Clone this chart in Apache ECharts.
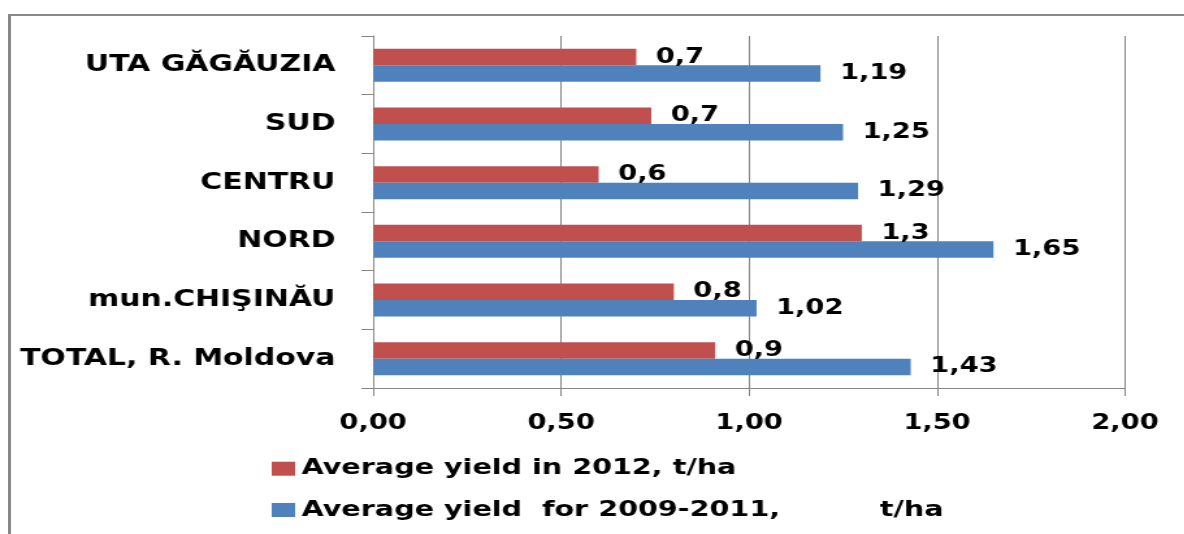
<!DOCTYPE html>
<html>
<head>
<meta charset="utf-8">
<script src="https://cdn.jsdelivr.net/npm/echarts@6/dist/echarts.min.js"></script>
<style>
  html, body { margin: 0; padding: 0; background: #fff; overflow: hidden; }
  #wrap { position: relative; width: 1184px; height: 534px; overflow: hidden; }
  #c { position: absolute; left: 0; top: 0; width: 911px; height: 534px; transform: scaleX(1.3); transform-origin: 0 0; }
  #bl { position: absolute; left: 8px; top: 14px; width: 3px; height: 520px; background: #888; }
  #bt { position: absolute; left: 8px; top: 14px; width: 1176px; height: 2px; background: #8a8a8a; }
</style>
</head>
<body>
<div id="wrap">
  <div id="c"></div>
  <div id="bl"></div>
  <div id="bt"></div>
</div>
<script>
// Categories listed bottom to top
const categories = ['TOTAL, R. Moldova', 'mun.CHIŞINĂU', 'NORD', 'CENTRU', 'SUD', 'UTA GĂGĂUZIA'];
const yield2012 = [0.91, 0.80, 1.30, 0.60, 0.74, 0.70];
const yield2009_2011 = [1.43, 1.02, 1.65, 1.29, 1.25, 1.19];
const seriesNames = ['Average yield in 2012, t/ha', 'Average yield  for 2009-2011,          t/ha'];
const xTicks = { min: 0, max: 2, interval: 0.5 };

const FONT = 'DejaVu Sans';
const fmt = (d) => (v) => Number(v).toFixed(d).replace('.', ',');

const chart = echarts.init(document.getElementById('c'), null, { renderer: 'canvas' });
chart.setOption({
  animation: false,
  textStyle: { fontFamily: FONT, fontWeight: 'bold', color: '#000' },
  grid: { left: 287, right: 45.6, top: 36, bottom: 146, containLabel: false },
  legend: {
    orient: 'vertical',
    left: 209,
    top: 457.7,
    padding: 0,
    itemWidth: 18,
    itemHeight: 14,
    itemGap: 19.3,
    icon: 'rect',
    data: [seriesNames[0], seriesNames[1]],
    textStyle: { fontFamily: FONT, fontWeight: 'bold', fontSize: 22, color: '#000', lineHeight: 22 }
  },
  xAxis: {
    type: 'value',
    min: xTicks.min, max: xTicks.max, interval: xTicks.interval,
    axisLine: { show: true, lineStyle: { color: '#868686', width: 1 } },
    axisTick: { show: true, length: 8, lineStyle: { color: '#868686' } },
    splitLine: { show: true, lineStyle: { color: '#868686', width: 1 } },
    axisLabel: { formatter: fmt(2), fontFamily: FONT, fontWeight: 'bold', fontSize: 21, color: '#000', margin: 25 }
  },
  yAxis: {
    type: 'category',
    data: categories,
    axisLine: { show: true, lineStyle: { color: '#868686', width: 1 } },
    axisTick: { show: true, length: 9, lineStyle: { color: '#868686' } },
    axisLabel: { fontFamily: FONT, fontWeight: 'bold', fontSize: 23, color: '#000', margin: 29 }
  },
  series: [
    {
      name: seriesNames[0],
      type: 'bar',
      data: yield2012,
      barWidth: 16.5,
      barGap: '0%',
      itemStyle: { color: '#C0504D' },
      label: { show: true, position: 'right', distance: 15, formatter: (p) => fmt(1)(p.value),
               fontFamily: FONT, fontWeight: 'bold', fontSize: 21, color: '#000' }
    },
    {
      name: seriesNames[1],
      type: 'bar',
      data: yield2009_2011,
      barWidth: 16.5,
      barGap: '0%',
      itemStyle: { color: '#4F81BD' },
      label: { show: true, position: 'right', distance: 15, formatter: (p) => fmt(2)(p.value),
               fontFamily: FONT, fontWeight: 'bold', fontSize: 21, color: '#000' }
    }
  ]
});
</script>
</body>
</html>
